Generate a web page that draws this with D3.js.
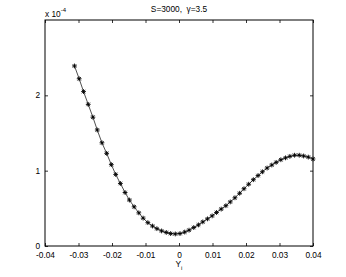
<!DOCTYPE html>
<html>
<head>
<meta charset="utf-8">
<script src="https://cdn.jsdelivr.net/npm/d3@7"></script>
<style>
	body { margin: 0; background: #fff; }
	text { font-family: "Liberation Sans", Arial, sans-serif; fill: #000; }
</style>
</head>
<body>
<div id="chart"></div>
<script>
// x positions of the samples (Y_i)
var xValues = [
	-0.0312, -0.0298, -0.0285, -0.0271, -0.0257, -0.0244, -0.0230, -0.0216, -0.0202, -0.0189,
	-0.0175, -0.0161, -0.0148, -0.0134, -0.0120, -0.0107, -0.0093, -0.0079, -0.0066, -0.0052,
	-0.0038, -0.0025, -0.0011, 0.0003, 0.0017, 0.0030, 0.0044, 0.0058, 0.0071, 0.0085,
	0.0099, 0.0112, 0.0126, 0.0140, 0.0153, 0.0167, 0.0181, 0.0194, 0.0208, 0.0222,
	0.0236, 0.0249, 0.0263, 0.0277, 0.0290, 0.0304, 0.0318, 0.0331, 0.0345, 0.0359,
	0.0372, 0.0386, 0.0400
];
// values in units of 1e-4
var yValues = [
	2.39, 2.22, 2.05, 1.88, 1.71, 1.54, 1.37, 1.23, 1.08, 0.95,
	0.83, 0.71, 0.61, 0.52, 0.44, 0.37, 0.31, 0.265, 0.23, 0.20,
	0.18, 0.165, 0.16, 0.165, 0.185, 0.21, 0.245, 0.28, 0.32, 0.36,
	0.40, 0.445, 0.49, 0.535, 0.585, 0.64, 0.70, 0.76, 0.82, 0.88,
	0.935, 0.985, 1.035, 1.075, 1.11, 1.145, 1.17, 1.19, 1.205, 1.205,
	1.195, 1.18, 1.155
];
var xTicks = [-0.04, -0.03, -0.02, -0.01, 0, 0.01, 0.02, 0.03, 0.04];
var xTickLabels = ['-0.04', '-0.03', '-0.02', '-0.01', '0', '0.01', '0.02', '0.03', '0.04'];
var yTicks = [0, 1, 2];
var yTickLabels = ['0', '1', '2'];

var W = 346, H = 277;
var margin = { top: 20, right: 33, bottom: 31, left: 45 };
var w = W - margin.left - margin.right,
	h = H - margin.top - margin.bottom;

var svg = d3.select('#chart').append('svg')
	.attr('width', W)
	.attr('height', H);

var g = svg.append('g')
	.attr('transform', 'translate(' + margin.left + ',' + margin.top + ')');

var x = d3.scaleLinear().domain([-0.04, 0.04]).range([0, w]);
var y = d3.scaleLinear().domain([0, 3]).range([h, 0]);

function styleAxis(sel){
	sel.select('.domain').remove();
	sel.selectAll('line').attr('stroke', '#000').attr('stroke-width', 0.8);
	sel.selectAll('text').attr('font-size', '8.3px').attr('fill', '#000');
}

// bottom + top
g.append('g')
	.attr('transform', 'translate(0,' + h + ')')
	.call(d3.axisBottom(x).tickValues(xTicks).tickSize(-3).tickPadding(6)
		.tickFormat(function(d, i){ return xTickLabels[i]; }))
	.call(styleAxis);
g.append('g')
	.call(d3.axisTop(x).tickValues(xTicks).tickSize(-3).tickFormat(''))
	.call(styleAxis);

// left + right
g.append('g')
	.call(d3.axisLeft(y).tickValues(yTicks).tickSize(-3).tickPadding(5)
		.tickFormat(function(d, i){ return yTickLabels[i]; }))
	.call(styleAxis);
g.append('g')
	.attr('transform', 'translate(' + w + ',0)')
	.call(d3.axisRight(y).tickValues(yTicks).tickSize(-3).tickFormat(''))
	.call(styleAxis);

// box
g.append('rect')
	.attr('x', 0).attr('y', 0)
	.attr('width', w).attr('height', h)
	.attr('fill', 'none')
	.attr('stroke', '#000')
	.attr('stroke-width', 1);

var data = xValues.map(function(d, i){ return { x: d, y: yValues[i] }; });

g.append('path')
	.datum(data)
	.attr('fill', 'none')
	.attr('stroke', '#222')
	.attr('stroke-width', 0.8)
	.attr('d', d3.line().x(function(d){ return x(d.x); }).y(function(d){ return y(d.y); }));

// asterisk markers
var r = 2.4, rd = r * 0.72;
var starPath = 'M' + (-r) + ',0L' + r + ',0M0,' + (-r) + 'L0,' + r +
	'M' + (-rd) + ',' + (-rd) + 'L' + rd + ',' + rd +
	'M' + (-rd) + ',' + rd + 'L' + rd + ',' + (-rd);

g.selectAll('.marker')
	.data(data)
	.enter()
	.append('path')
	.attr('class', 'marker')
	.attr('transform', function(d){ return 'translate(' + x(d.x) + ',' + y(d.y) + ')'; })
	.attr('d', starPath)
	.attr('stroke', '#000')
	.attr('stroke-width', 0.9)
	.attr('fill', 'none');

// title
svg.append('text')
	.attr('x', margin.left + w / 2)
	.attr('y', 12)
	.attr('text-anchor', 'middle')
	.attr('font-size', '8.3px')
	.text('S=3000,\u00a0\u00a0\u03b3=3.5');

// exponent label
var ex = svg.append('text')
	.attr('x', margin.left)
	.attr('y', 16.5)
	.attr('font-size', '8.3px')
	.text('x 10');
ex.append('tspan')
	.attr('dy', -5)
	.attr('font-size', '6px')
	.text('-4');

// x label
var xl = svg.append('text')
	.attr('x', margin.left + w / 2)
	.attr('y', 267)
	.attr('text-anchor', 'middle')
	.attr('font-size', '8.3px')
	.text('Y');
xl.append('tspan')
	.attr('dy', 3)
	.attr('font-size', '6px')
	.text('i');
</script>
</body>
</html>
